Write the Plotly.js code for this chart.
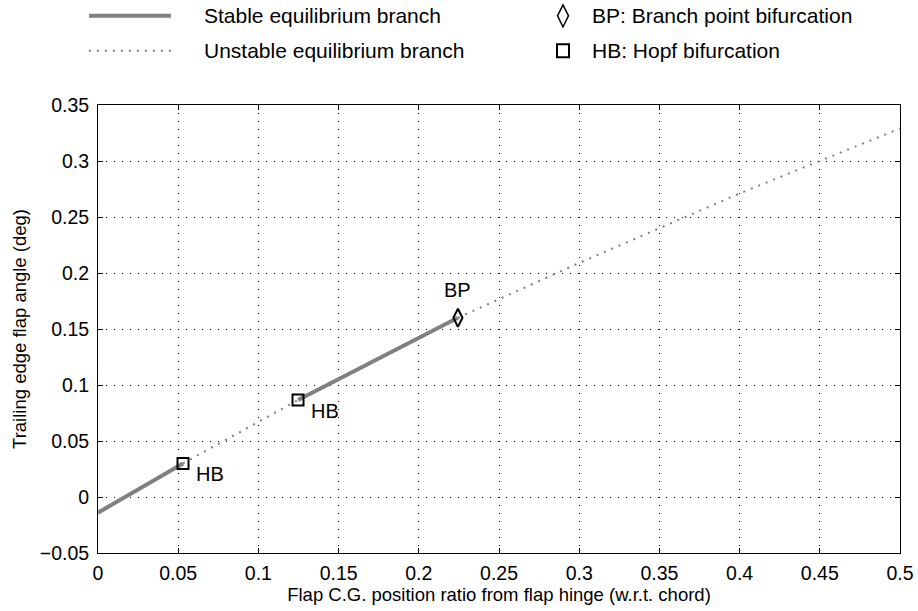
<!DOCTYPE html>
<html><head><meta charset="utf-8">
<script src="https://cdn.plot.ly/plotly-3.0.1.min.js"></script>
<style>html,body{margin:0;padding:0;background:#fff}#chart{width:918px;height:611px}</style>
</head><body><div id="chart"></div>
<script>
// ---- data ----
const stable1X = [0, 0.053];
const stable1Y = [-0.014, 0.030];
const unstable1X = [0.053, 0.1247];
const unstable1Y = [0.030, 0.0866];
const stable2X = [0.1247, 0.2244];
const stable2Y = [0.0866, 0.160];
const unstable2X = [0.2244, 0.3, 0.4, 0.45, 0.5];
const unstable2Y = [0.160, 0.209, 0.271, 0.300, 0.329];
const hbX = [0.053, 0.1247];
const hbY = [0.030, 0.0866];
const hbLabels = ['HB', 'HB'];
const bpX = [0.2244];
const bpY = [0.160];
const bpLabels = ['BP'];
const xTickVals = [0, 0.05, 0.1, 0.15, 0.2, 0.25, 0.3, 0.35, 0.4, 0.45, 0.5];
const xTickText = ['0', '0.05', '0.1', '0.15', '0.2', '0.25', '0.3', '0.35', '0.4', '0.45', '0.5'];
const yTickVals = [-0.05, 0, 0.05, 0.1, 0.15, 0.2, 0.25, 0.3, 0.35];
const yTickText = ['\u22120.05', '0', '0.05', '0.1', '0.15', '0.2', '0.25', '0.3', '0.35'];
const legendLabels = ['Stable equilibrium branch', 'Unstable equilibrium branch', 'BP: Branch point bifurcation', 'HB: Hopf bifurcation'];
const xTitle = 'Flap C.G. position ratio from flap hinge (w.r.t. chord)';
const yTitle = 'Trailing edge flap angle (deg)';

const FONT = 'Liberation Sans, Arial, Helvetica, sans-serif';
const GRAY = '#808080';

const stableLine = {color: GRAY, width: 4};
const unstableLine = {color: GRAY, width: 2, dash: '2px,6px'};

const traces = [
  {x: unstable1X, y: unstable1Y, mode: 'lines', line: unstableLine, showlegend: false, hoverinfo: 'skip'},
  {x: unstable2X, y: unstable2Y, mode: 'lines', line: unstableLine, showlegend: false, hoverinfo: 'skip'},
  {x: stable1X, y: stable1Y, mode: 'lines', line: stableLine, showlegend: false, hoverinfo: 'skip'},
  {x: stable2X, y: stable2Y, mode: 'lines', line: stableLine, showlegend: false, hoverinfo: 'skip'},
  {x: hbX, y: hbY, mode: 'markers', showlegend: false,
   marker: {symbol: 'square-open', size: 11, color: '#000', line: {width: 2, color: '#000'}}},
  {x: bpX, y: bpY, mode: 'markers', showlegend: false,
   marker: {symbol: 'diamond-tall-open', size: 13, color: '#000', line: {width: 2, color: '#000'}}}
];

const annotations = [];
hbX.forEach((v, i) => annotations.push({
  x: v, y: hbY[i], xref: 'x', yref: 'y', text: hbLabels[i], showarrow: false,
  xanchor: 'left', yanchor: 'middle', xshift: 11, yshift: -11,
  font: {family: FONT, size: 20, color: '#000'}
}));
bpX.forEach((v, i) => annotations.push({
  x: v, y: bpY[i], xref: 'x', yref: 'y', text: bpLabels[i], showarrow: false,
  xanchor: 'center', yanchor: 'middle', xshift: 0, yshift: 28,
  font: {family: FONT, size: 20, color: '#000'}
}));

// custom legend (paper coordinates)
const row1 = 1.199, row2 = 1.121;
const legTextX1 = 0.1297, legTextX2 = 0.6135;
[[legendLabels[0], legTextX1, row1], [legendLabels[1], legTextX1, row2],
 [legendLabels[2], legTextX2, row1], [legendLabels[3], legTextX2, row2]].forEach(([t, x, y]) => {
  annotations.push({x: x, y: y, xref: 'paper', yref: 'paper', text: t, showarrow: false,
    xanchor: 'left', yanchor: 'middle', font: {family: FONT, size: 21, color: '#000'}});
});

const shapes = [
  {type: 'line', xref: 'paper', yref: 'paper', x0: -0.0112, x1: 0.091, y0: row1, y1: row1,
   line: {color: GRAY, width: 4}},
  {type: 'line', xref: 'paper', yref: 'paper', x0: -0.0112, x1: 0.091, y0: row2, y1: row2,
   line: {color: GRAY, width: 2, dash: '2px,6px'}},
  {type: 'path', xref: 'paper', yref: 'paper', xsizemode: 'pixel', ysizemode: 'pixel',
   xanchor: 0.5798, yanchor: row1, path: 'M0,11L5.5,0L0,-11L-5.5,0Z',
   line: {color: '#000', width: 1.5}},
  {type: 'rect', xref: 'paper', yref: 'paper', xsizemode: 'pixel', ysizemode: 'pixel',
   xanchor: 0.5798, yanchor: row2, x0: -6, x1: 6, y0: -6.5, y1: 6.5,
   line: {color: '#000', width: 2}}
];

const axisCommon = {
  showline: true, linecolor: '#000', linewidth: 1, mirror: 'ticks',
  ticks: 'inside', ticklen: 5, tickcolor: '#000', tickwidth: 1,
  showgrid: true, gridcolor: '#000', gridwidth: 1, griddash: '1px,7px',
  zeroline: false, tickfont: {family: FONT, size: 19.5, color: '#000'}
};

const layout = {
  width: 918, height: 611,
  margin: {l: 98, r: 18, t: 105, b: 58},
  paper_bgcolor: '#fff', plot_bgcolor: '#fff',
  showlegend: false,
  xaxis: Object.assign({}, axisCommon, {
    range: [0, 0.5], tickvals: xTickVals, ticktext: xTickText, ticklabelstandoff: 3,
    title: {text: xTitle, font: {family: FONT, size: 18.5, color: '#000'}, standoff: 2}
  }),
  yaxis: Object.assign({}, axisCommon, {
    range: [-0.05, 0.35], tickvals: yTickVals, ticktext: yTickText, ticklabelstandoff: 4,
    title: {text: yTitle, font: {family: FONT, size: 18.5, color: '#000'}, standoff: 8}
  }),
  annotations: annotations,
  shapes: shapes
};

Plotly.newPlot('chart', traces, layout, {displayModeBar: false, staticPlot: true});
</script>
</body></html>
